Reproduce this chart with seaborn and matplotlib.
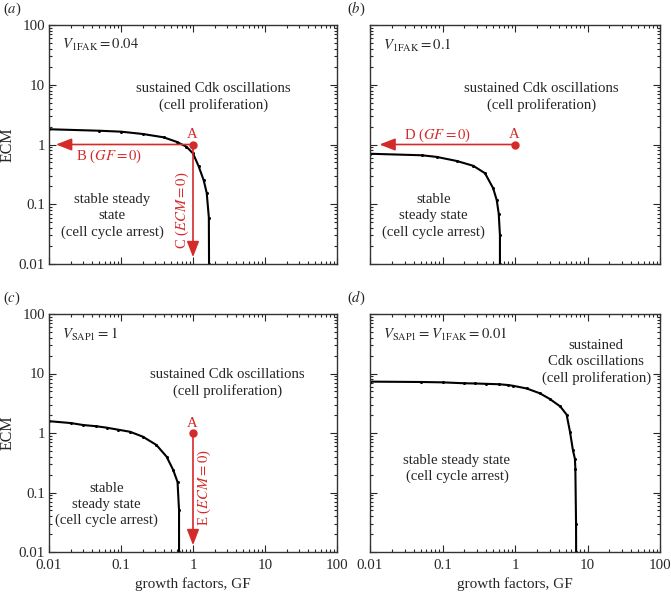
import numpy as np
import pandas as pd
import seaborn as sns
import matplotlib.pyplot as plt
from matplotlib.ticker import LogLocator, FuncFormatter, NullFormatter

# --- dados (fronteira de bifurcação de Hopf) ---
gf_a = [0.01, 0.05, 0.1, 0.2, 0.39, 0.59, 0.81, 1.0, 1.2, 1.41, 1.55, 1.66, 1.67]
ecm_a = [1.8, 1.70, 1.64, 1.5, 1.32, 1.11, 0.92, 0.71, 0.43, 0.25, 0.155, 0.06, 0.01]

gf_b = [0.01, 0.052, 0.083, 0.157, 0.266, 0.386, 0.50, 0.56, 0.596, 0.62, 0.62]
ecm_b = [0.70, 0.66, 0.62, 0.53, 0.44, 0.33, 0.185, 0.117, 0.07, 0.03, 0.01]

gf_c = [0.01, 0.02, 0.03, 0.045, 0.063, 0.09, 0.133, 0.2, 0.31, 0.43, 0.53, 0.61, 0.64, 0.64]
ecm_c = [1.58, 1.47, 1.36, 1.30, 1.23, 1.14, 1.05, 0.87, 0.63, 0.40, 0.24, 0.15, 0.05, 0.01]

gf_d = [0.01, 0.05, 0.1, 0.2, 0.28, 0.4, 0.6, 0.8, 0.95, 1.45, 2.2, 3.0, 4.2, 5.15,
        5.75, 6.3, 6.7, 6.8, 6.95, 6.97]
ecm_d = [7.3, 7.2, 7.1, 6.85, 6.8, 6.7, 6.6, 6.4, 6.2, 5.6, 4.65, 3.75, 2.8, 2.04,
         1.03, 0.51, 0.37, 0.25, 0.03, 0.01]

# ponto A e destinos das setas
ponto_A = (1, 1)

# --- estilo ---
sns.set_style("ticks")
plt.rcParams['font.family'] = ['Liberation Serif', 'DejaVu Serif']
plt.rcParams['mathtext.fontset'] = 'stix'
plt.rcParams['font.size'] = 10.6
vermelho = '#d42a2a'

fig = plt.figure(figsize=(6.71, 5.97), dpi=100)
W, H = 671, 597


def eixo(x0, y0, x1, y1):
    return fig.add_axes([x0 / W, 1 - y1 / H, (x1 - x0) / W, (y1 - y0) / H])


ax_a = eixo(49, 25, 337, 264)
ax_b = eixo(370, 25, 660, 264)
ax_c = eixo(49, 314, 337, 552)
ax_d = eixo(370, 314, 660, 552)

curvas = [(ax_a, gf_a, ecm_a), (ax_b, gf_b, ecm_b), (ax_c, gf_c, ecm_c), (ax_d, gf_d, ecm_d)]

fmt = FuncFormatter(lambda v, p: '%g' % v)
for ax, gf, ecm in curvas:
    df = pd.DataFrame({'GF': gf, 'ECM': ecm})
    sns.lineplot(data=df, x='GF', y='ECM', ax=ax, color='black', lw=1.5,
                 marker='o', markersize=2.2, markeredgewidth=0, sort=False, estimator=None)
    ax.set_xscale('log')
    ax.set_yscale('log')
    ax.set_xlim(0.01, 100)
    ax.set_ylim(0.01, 100)
    ax.xaxis.set_major_locator(LogLocator(base=10, numticks=10))
    ax.yaxis.set_major_locator(LogLocator(base=10, numticks=10))
    ax.xaxis.set_minor_locator(LogLocator(base=10, subs=np.arange(2, 10), numticks=10))
    ax.yaxis.set_minor_locator(LogLocator(base=10, subs=np.arange(2, 10), numticks=10))
    ax.xaxis.set_major_formatter(fmt)
    ax.yaxis.set_major_formatter(fmt)
    ax.xaxis.set_minor_formatter(NullFormatter())
    ax.yaxis.set_minor_formatter(NullFormatter())
    ax.tick_params(which='both', direction='in', top=True, right=True, labelsize=10.8,
                   width=0.8, pad=3)
    ax.tick_params(axis='x', pad=5)
    ax.tick_params(which='major', length=5)
    ax.tick_params(which='minor', length=2.5)
    for s in ax.spines.values():
        s.set_linewidth(1.0)
        s.set_color('#333333')
    ax.set_xlabel('')
    ax.set_ylabel('')

# rótulos dos eixos só nas bordas
for ax in (ax_a, ax_b):
    ax.tick_params(labelbottom=False)
for ax in (ax_b, ax_d):
    ax.tick_params(labelleft=False)
ax_a.set_ylabel('ECM', fontsize=11.5, labelpad=2)
ax_c.set_ylabel('ECM', fontsize=11.5, labelpad=2)
ax_c.set_xlabel('growth factors, GF', fontsize=11, labelpad=4)
ax_d.set_xlabel('growth factors, GF', fontsize=11, labelpad=4)

# letras dos painéis
for letra, (x, y) in zip('abcd', [(3, 13), (347, 13), (3, 302), (347, 302)]):
    fig.text(x / W, 1 - y / H, f'(${letra}$)', fontsize=10.5)

# textos dentro dos painéis
ax_a.text(0.045, 0.915, r'$V_{\rm 1FAK} = 0.04$', transform=ax_a.transAxes, va='center')
ax_a.text(0.57, 0.70, 'sustained Cdk oscillations\n(cell proliferation)', transform=ax_a.transAxes,
          ha='center', va='center', linespacing=1.3)
ax_a.text(0.22, 0.20, 'stable steady\nstate\n(cell cycle arrest)', transform=ax_a.transAxes,
          ha='center', va='center', linespacing=1.3)

ax_b.text(0.045, 0.915, r'$V_{\rm 1FAK} = 0.1$', transform=ax_b.transAxes, va='center')
ax_b.text(0.59, 0.70, 'sustained Cdk oscillations\n(cell proliferation)', transform=ax_b.transAxes,
          ha='center', va='center', linespacing=1.3)
ax_b.text(0.22, 0.20, 'stable\nsteady state\n(cell cycle arrest)', transform=ax_b.transAxes,
          ha='center', va='center', linespacing=1.3)

ax_c.text(0.045, 0.915, r'$V_{\rm SAP1} = 1$', transform=ax_c.transAxes, va='center')
ax_c.text(0.62, 0.71, 'sustained Cdk oscillations\n(cell proliferation)', transform=ax_c.transAxes,
          ha='center', va='center', linespacing=1.3)
ax_c.text(0.20, 0.20, 'stable\nsteady state\n(cell cycle arrest)', transform=ax_c.transAxes,
          ha='center', va='center', linespacing=1.3)

ax_d.text(0.045, 0.915, r'$V_{\rm SAP1} = V_{\rm 1FAK} = 0.01$', transform=ax_d.transAxes, va='center')
ax_d.text(0.78, 0.80, 'sustained\nCdk oscillations\n(cell proliferation)', transform=ax_d.transAxes,
          ha='center', va='center', linespacing=1.3)
ax_d.text(0.30, 0.35, 'stable steady state\n(cell cycle arrest)', transform=ax_d.transAxes,
          ha='center', va='center', linespacing=1.3)

# setas vermelhas (trajetórias a partir de A)
seta = dict(arrowstyle='-|>,head_length=0.9,head_width=0.35', color=vermelho, lw=1.2,
            shrinkA=0, shrinkB=0)
for ax in (ax_a, ax_b, ax_c):
    ax.plot(*ponto_A, 'o', color=vermelho, markersize=5, zorder=5)
    ax.text(0.97, 1.45, 'A', color=vermelho, ha='center', va='center')

ax_a.annotate('', xy=(0.0125, 1), xytext=ponto_A, arrowprops=seta)
ax_a.text(0.024, 0.64, r'B ($GF = 0$)', color=vermelho, va='center')
ax_a.annotate('', xy=(1, 0.013), xytext=ponto_A, arrowprops=seta)
ax_a.text(0.72, 0.08, r'C ($ECM = 0$)', color=vermelho, rotation=90, ha='center', va='center')

ax_b.annotate('', xy=(0.0135, 1), xytext=ponto_A, arrowprops=seta)
ax_b.text(0.085, 1.45, r'D ($GF = 0$)', color=vermelho, ha='center', va='center')

ax_c.annotate('', xy=(1, 0.013), xytext=ponto_A, arrowprops=seta)
ax_c.text(1.45, 0.12, r'E ($ECM = 0$)', color=vermelho, rotation=90, ha='center', va='center')

plt.savefig('out.png', dpi=100)
